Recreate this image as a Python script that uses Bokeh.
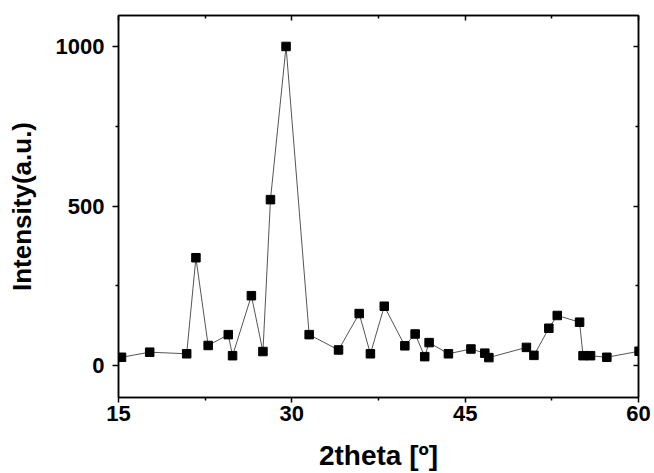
from bokeh.plotting import figure
from bokeh.models import LinearAxis, FixedTicker, Range1d
from bokeh.embed import file_html
from bokeh.resources import INLINE

two_theta = [15.26, 17.7, 20.9, 21.7, 22.76, 24.5, 24.87, 26.5, 27.5, 28.15, 29.5,
             31.5, 34.04, 35.83, 36.8, 38.0, 39.78, 40.67, 41.5, 41.88, 43.55, 45.5,
             46.7, 47.05, 50.3, 50.95, 52.24, 52.97, 54.9, 55.2, 55.85, 57.26, 60.05]
intensity = [26, 42, 37, 338, 63, 97, 31, 219, 44, 520, 1000,
             97, 49, 163, 37, 186, 62, 99, 28, 72, 37, 52,
             39, 25, 57, 32, 117, 157, 136, 31, 31, 26, 45]
x_ticks = [15, 30, 45, 60]
x_minor = [22.5, 37.5, 52.5]
y_ticks = [0, 500, 1000]
y_minor = [250, 750]

FONT = "Liberation Sans"

p = figure(width=654, height=473, output_backend="svg", toolbar_location=None,
           x_range=Range1d(15, 60), y_range=Range1d(-100, 1097),
           min_border_left=118, min_border_right=16, min_border_top=15, min_border_bottom=76)
p.grid.visible = False
p.outline_line_color = "black"
p.outline_line_width = 1.5

p.line(two_theta, intensity, line_color="#555555", line_width=1)
p.scatter(two_theta, intensity, marker="square", size=8.5, fill_color="black", line_color="black")

for ax in [p.xaxis[0], p.yaxis[0]]:
    ax.axis_line_width = 1.5
    ax.major_tick_line_width = 1.5
    ax.minor_tick_line_width = 1.5
    ax.major_tick_in = 0
    ax.minor_tick_in = 0
    ax.major_label_text_font = FONT
    ax.major_label_text_font_style = "bold"
    ax.major_label_text_font_size = "22px"
    ax.major_label_text_color = "black"
    ax.axis_label_text_font = FONT
    ax.axis_label_text_font_style = "bold"
    ax.axis_label_text_color = "black"

p.xaxis[0].axis_label_text_font_size = "28px"
p.yaxis[0].axis_label_text_font_size = "26px"
p.xaxis[0].major_tick_out = 5
p.xaxis[0].minor_tick_out = 3
p.yaxis[0].major_tick_out = 6
p.yaxis[0].minor_tick_out = 3
p.xaxis[0].ticker = FixedTicker(ticks=x_ticks, minor_ticks=x_minor)
p.yaxis[0].ticker = FixedTicker(ticks=y_ticks, minor_ticks=y_minor)
p.xaxis[0].axis_label = "2theta [º]"
p.yaxis[0].axis_label = "Intensity(a.u.)"
p.xaxis[0].axis_label_standoff = 16
p.yaxis[0].axis_label_standoff = 16
p.xaxis[0].major_label_standoff = 3
p.yaxis[0].major_label_standoff = 8

top = LinearAxis(ticker=FixedTicker(ticks=x_ticks, minor_ticks=x_minor))
right = LinearAxis(ticker=FixedTicker(ticks=y_ticks, minor_ticks=y_minor))
for ax in [top, right]:
    ax.major_label_text_font_size = "0px"
    ax.major_label_text_alpha = 0
    ax.axis_line_width = 1.5
    ax.major_tick_line_width = 1.5
    ax.minor_tick_line_width = 1.5
    ax.major_tick_in = 5
    ax.major_tick_out = 0
    ax.minor_tick_in = 3
    ax.minor_tick_out = 0
    ax.major_label_standoff = 0
p.add_layout(top, "above")
p.add_layout(right, "right")

open("out.html", "w").write(file_html(p, INLINE))
